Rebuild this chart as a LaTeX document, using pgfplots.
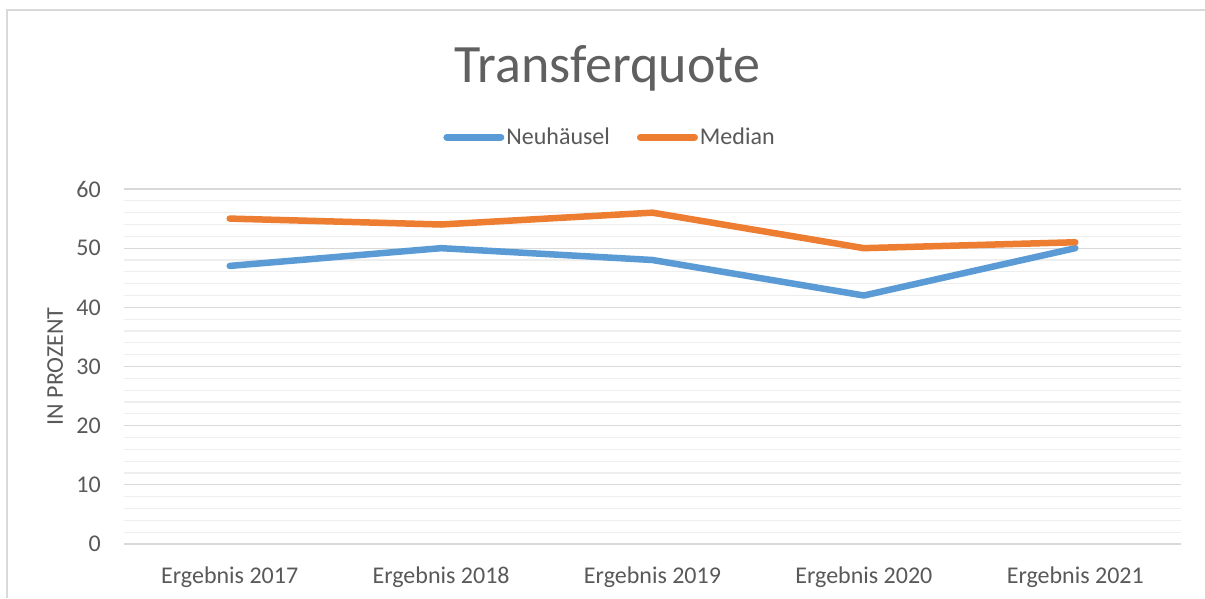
\documentclass[border=0pt]{standalone}
\usepackage{pgfplots}
\pgfplotsset{compat=1.18}
\usepackage{fontspec}
\setmainfont{Carlito}
\definecolor{cblue}{HTML}{5B9BD5}
\definecolor{corange}{HTML}{ED7D31}
\definecolor{txtgray}{HTML}{595959}
\definecolor{titlegray}{HTML}{606060}
\definecolor{majgrid}{HTML}{D9D9D9}
\definecolor{mingrid}{HTML}{EEEEEE}
\begin{document}
\begin{tikzpicture}[x=1pt,y=1pt]
\useasboundingbox (0,0) rectangle (1205,598);
\fill[white] (0,0) rectangle (1205,598);
\draw[majgrid, line width=1.5pt] (7,0) -- (7,588) -- (1205,588);
\node[anchor=base, font=\fontsize{54}{60}\selectfont, text=titlegray, inner sep=0pt] at (607.5,515) {Transferquote};
\begin{axis}[
  at={(124pt,54pt)}, anchor=south west,
  scale only axis, width=1057pt, height=355pt,
  xmin=-0.5, xmax=4.5, ymin=0, ymax=60,
  xtick={0,1,2,3,4},
  xticklabels={Ergebnis 2017,Ergebnis 2018,Ergebnis 2019,Ergebnis 2020,Ergebnis 2021},
  ytick={0,10,...,60},
  minor y tick num=4,
  ymajorgrids, yminorgrids,
  major grid style={majgrid, line width=1.3pt},
  minor grid style={mingrid, line width=1.2pt},
  axis line style={draw=none},
  axis x line*=bottom,
  axis y line*=left,
  x axis line style={majgrid, line width=1.3pt},
  major tick length=0pt, minor tick length=0pt,
  tick style={draw=none},
  /pgf/number format/assume math mode=true,
  ticklabel style={font=\fontsize{24}{27}\selectfont, text=txtgray, inner sep=0pt},
  yticklabel style={anchor=east, xshift=-23pt},
  xticklabel style={anchor=base, yshift=-39pt},
  ylabel={IN PROZENT},
  every axis y label/.style={at={(axis description cs:-0.065,0.5)}, anchor=center, rotate=90, font=\fontsize{24}{27}\selectfont, text=txtgray},
  legend columns=2,
  legend style={at={(axis description cs:0.4598,1.1457)}, anchor=center, draw=none, fill=none,
     font=\fontsize{24}{27}\selectfont, text=txtgray,
     /tikz/every even column/.append style={column sep=25pt}},
  legend cell align=left,
  legend image code/.code={\draw[#1, line width=7pt, line cap=round] (0pt,0pt) -- (54pt,0pt);},
  clip=false,
]
\addplot[cblue, line width=6.5pt, line cap=round, line join=round] coordinates {(0,47) (1,50) (2,48) (3,42) (4,50)};
\addlegendentry{Neuhäusel}
\addplot[corange, line width=6.5pt, line cap=round, line join=round] coordinates {(0,55) (1,54) (2,56) (3,50) (4,51)};
\addlegendentry{Median}
\end{axis}
\end{tikzpicture}
\end{document}
